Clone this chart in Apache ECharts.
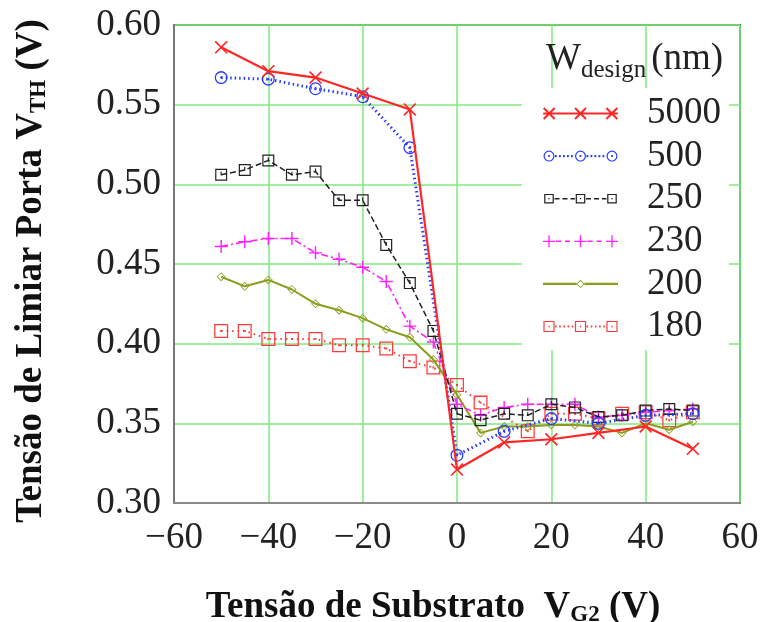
<!DOCTYPE html>
<html>
<head>
<meta charset="utf-8">
<script src="https://cdn.jsdelivr.net/npm/echarts@6/dist/echarts.min.js"></script>
<style>
html,body{margin:0;padding:0;background:#fff;}
#chart{width:760px;height:622px;}
</style>
</head>
<body>
<div id="chart"></div>
<script>
// ---- data ----
const seriesNames = ['5000', '500', '250', '230', '200', '180'];
const xTicks = [-60, -40, -20, 0, 20, 40, 60];
const yTicks = [0.30, 0.35, 0.40, 0.45, 0.50, 0.55, 0.60];

const vg2Coarse = [-50, -40, -30, -20, -10, 0, 10, 20, 30, 40, 50];
const vg2Fine = [-50, -45, -40, -35, -30, -25, -20, -15, -10, -5, 0, 5, 10, 15, 20, 25, 30, 35, 40, 45, 50];
const vg2For180 = [-50, -45, -40, -35, -30, -25, -20, -15, -10, -5, 0, 5, 15, 20, 25, 30, 35, 40, 45, 50];

const vth5000 = [0.586, 0.571, 0.567, 0.557, 0.547, 0.321, 0.338, 0.340, 0.344, 0.348, 0.334];
const vth500 = [0.567, 0.566, 0.560, 0.555, 0.523, 0.330, 0.345, 0.353, 0.350, 0.355, 0.356];
const vth250 = [0.506, 0.509, 0.515, 0.506, 0.508, 0.490, 0.490, 0.462, 0.438, 0.408, 0.356, 0.352, 0.356, 0.355, 0.362, 0.360, 0.354, 0.355, 0.358, 0.359, 0.358];
const vth230 = [0.461, 0.464, 0.466, 0.466, 0.457, 0.453, 0.448, 0.439, 0.411, 0.401, 0.362, 0.355, 0.360, 0.362, 0.362, 0.362, 0.354, 0.355, 0.357, 0.358, 0.359];
const vth200 = [0.442, 0.436, 0.440, 0.434, 0.425, 0.421, 0.416, 0.409, 0.404, 0.390, 0.368, 0.344, 0.348, 0.348, 0.349, 0.349, 0.348, 0.344, 0.350, 0.346, 0.351];
const vth180 = [0.408, 0.408, 0.403, 0.403, 0.403, 0.399, 0.399, 0.397, 0.389, 0.385, 0.374, 0.363, 0.345, 0.356, 0.356, 0.353, 0.356, 0.357, 0.352, 0.357];

// ---- build ----
function pairs(xs, ys) { return xs.map((x, i) => [x, ys[i]]); }
const SERIF = '"Liberation Serif", "Times New Roman", serif';

// plot marker symbols
const symX = 'path://M-5.6,-4.6 L-4.6,-5.6 L5.6,4.6 L4.6,5.6 Z M4.6,-5.6 L5.6,-4.6 L-4.6,5.6 L-5.6,4.6 Z';
const symCircDot = 'path://M0,-5 A5,5 0 1,1 0,5 A5,5 0 1,1 0,-5 Z M0,-4 A4,4 0 1,0 0,4 A4,4 0 1,0 0,-4 Z M0,-0.9 A0.9,0.9 0 1,1 0,0.9 A0.9,0.9 0 1,1 0,-0.9 Z';
const symSqTick = 'path://M-5,-5 H5 V5 H-5 Z M-4,-4 V4 H4 V-4 Z M-0.5,-2.5 H0.5 V0.5 H-0.5 Z';
const symSqDot = 'path://M-5,-5 H5 V5 H-5 Z M-4.1,-4.1 V4.1 H4.1 V-4.1 Z M-0.7,-0.7 H0.7 V0.7 H-0.7 Z';
const symPlus = 'path://M-5,-0.55 H5 V0.55 H-5 Z M-0.55,-5 H0.55 V5 H-0.55 Z';
const symDiamond = 'path://M0,-4 L4,0 L0,4 L-4,0 Z M0,-3 L-3,0 L0,3 L3,0 Z';

// legend icon builders (75 x 14 box)
const W = 75, H = 14, CY = 7;
function r(x0, y0, x1, y1) { return `M${x0},${y0} L${x1},${y0} L${x1},${y1} L${x0},${y1} Z `; }
function rh(x0, y0, x1, y1) { return `M${x0},${y0} L${x0},${y1} L${x1},${y1} L${x1},${y0} Z `; }
function specks() { return r(0, 0, 0.02, 0.02) + r(W - 0.02, H - 0.02, W, H); }
function seg(a, b, t) { return r(a, CY - t / 2, b, CY + t / 2); }
function pattern(a, b, on, off, t) {
  let s = ''; let x = a;
  while (x < b) { s += seg(x, Math.min(x + on, b), t); x += on + off; }
  return s;
}
function mX(cx, h) { return `M${cx - h - 0.7},${CY - h + 0.7} L${cx - h + 0.7},${CY - h - 0.7} L${cx + h + 0.7},${CY + h - 0.7} L${cx + h - 0.7},${CY + h + 0.7} Z M${cx + h - 0.7},${CY - h - 0.7} L${cx + h + 0.7},${CY - h + 0.7} L${cx - h + 0.7},${CY + h + 0.7} L${cx - h - 0.7},${CY + h - 0.7} Z `; }
function mCirc(cx, ro, ri, rd) {
  return `M${cx},${CY - ro} A${ro},${ro} 0 1,1 ${cx},${CY + ro} A${ro},${ro} 0 1,1 ${cx},${CY - ro} Z ` +
    `M${cx},${CY - ri} A${ri},${ri} 0 1,0 ${cx},${CY + ri} A${ri},${ri} 0 1,0 ${cx},${CY - ri} Z ` +
    `M${cx},${CY - rd} A${rd},${rd} 0 1,1 ${cx},${CY + rd} A${rd},${rd} 0 1,1 ${cx},${CY - rd} Z `;
}
function mSq(cx, h, t, d) { return r(cx - h, CY - h, cx + h, CY + h) + rh(cx - h + t, CY - h + t, cx + h - t, CY + h - t) + r(cx - d, CY - d, cx + d, CY + d); }
function mPlus(cx, h, t) { return r(cx - h, CY - t / 2, cx + h, CY + t / 2) + r(cx - t / 2, CY - h, cx + t / 2, CY + h); }
function mDia(cx, h, t) { return `M${cx},${CY - h} L${cx + h},${CY} L${cx},${CY + h} L${cx - h},${CY} Z M${cx},${CY - h + t} L${cx - h + t},${CY} L${cx},${CY + h - t} L${cx + h - t},${CY} Z `; }

const MK = [6, 37.5, 69];
const legendIcons = [
  'path://' + specks() + seg(0, W, 2) + MK.map(c => mX(c, 5.5)).join(''),
  'path://' + specks() + pattern(12, 31.5, 1.8, 2.2, 2.4) + pattern(43.5, 63, 1.8, 2.2, 2.4) + MK.map(c => mCirc(c, 5.5, 4.3, 1.1)).join(''),
  'path://' + specks() + pattern(11.5, 32, 5, 3, 1.5) + pattern(43, 63.5, 5, 3, 1.5) + MK.map(c => mSq(c, 4.8, 1.2, 0.6)).join(''),
  'path://' + specks() + pattern(13, 31, 5, 4, 1.6) + pattern(44.5, 62.5, 5, 4, 1.6) + MK.map(c => mPlus(c, 6, 1.3)).join(''),
  'path://' + specks() + seg(0, 33.5, 2.2) + seg(41.5, W, 2.2) + mDia(37.5, 4.2, 1.2),
  'path://' + specks() + pattern(12, 31.5, 1.6, 2.6, 2) + pattern(43.5, 63, 1.6, 2.6, 2) + MK.map(c => mSq(c, 5.6, 1.2, 0.7)).join('')
];

const styles = [
  {color: '#ff2626', sym: symX, size: 13, lt: 'solid', lw: 2.2},
  {color: '#2b3cff', sym: symCircDot, size: 13, lt: [1.5, 3], lw: 3},
  {color: '#222222', sym: symSqTick, size: 12, lt: [6, 3], lw: 1.5},
  {color: '#ff22ff', sym: symPlus, size: 13, lt: [7, 3, 2, 3], lw: 1.6},
  {color: '#8c9c1c', sym: symDiamond, size: 9, lt: 'solid', lw: 2},
  {color: '#ff3b3b', sym: symSqDot, size: 14, lt: [1.5, 4], lw: 2}
];
const dataSets = [
  pairs(vg2Coarse, vth5000),
  pairs(vg2Coarse, vth500),
  pairs(vg2Fine, vth250),
  pairs(vg2Fine, vth230),
  pairs(vg2Fine, vth200),
  pairs(vg2For180, vth180)
];

const series = seriesNames.map((n, i) => ({
  name: n,
  type: 'line',
  data: dataSets[i],
  symbol: styles[i].sym,
  symbolSize: styles[i].size,
  symbolKeepAspect: true,
  showAllSymbol: true,
  itemStyle: {color: styles[i].color, borderWidth: 0},
  lineStyle: {color: styles[i].color, type: styles[i].lt, width: styles[i].lw},
  animation: false,
  z: 10 - i
}));

const nameRich = {
  a: {fontFamily: SERIF, fontSize: 37, fontWeight: 'bold', color: '#111', lineHeight: 42},
  b: {fontFamily: SERIF, fontSize: 23, fontWeight: 'bold', color: '#111', padding: [17, 0, 0, 0], lineHeight: 42}
};

const chart = echarts.init(document.getElementById('chart'), null, {renderer: 'canvas'});
chart.setOption({
  backgroundColor: '#ffffff',
  animation: false,
  grid: {left: 174, right: 20, top: 25, bottom: 119, containLabel: false, outerBoundsMode: 'none',
    show: true, borderColor: '#3f7f3f', borderWidth: 2, backgroundColor: '#fff'},
  title: {
    left: 541, top: 34,
    text: '{w|W}{s|design}{n|(nm)}',
    textStyle: {
      fontWeight: 'normal',
      rich: {
        w: {fontFamily: SERIF, fontSize: 37, fontWeight: 'normal', color: '#222', lineHeight: 40},
        s: {fontFamily: SERIF, fontSize: 25, fontWeight: 'normal', color: '#222', padding: [22, 5, 0, 0], lineHeight: 40},
        n: {fontFamily: SERIF, fontSize: 37, fontWeight: 'normal', color: '#222', lineHeight: 40}
      }
    }
  },
  legend: {
    orient: 'vertical',
    left: 522, top: 88,
    padding: [7, 8, 5, 21],
    backgroundColor: '#ffffff',
    itemWidth: W, itemHeight: H,
    itemGap: 5.6,
    data: seriesNames.map((n, i) => ({name: n, icon: legendIcons[i]})),
    textStyle: {fontFamily: SERIF, fontSize: 37, color: '#222', lineHeight: 36, padding: [0, 0, 0, 24]}
  },
  xAxis: {
    type: 'value', min: xTicks[0], max: xTicks[xTicks.length - 1], interval: 20,
    axisLine: {show: true, onZero: false, lineStyle: {color: '#8a8a8a', width: 2}},
    axisTick: {show: false},
    splitLine: {show: true, lineStyle: {color: '#7fea7f', width: 1.5}},
    axisLabel: {fontFamily: SERIF, fontSize: 37, color: '#222', margin: 17,
      formatter: v => String(v).replace('-', '\u2212')},
    name: '{a|Tensão de Substrato  V}{b|G2}{a| (V)}',
    nameLocation: 'middle', nameGap: 83,
    nameTextStyle: {padding: [0, 48, 0, 0], rich: nameRich}
  },
  yAxis: {
    type: 'value', min: yTicks[0], max: yTicks[yTicks.length - 1], interval: 0.05,
    axisLine: {show: true, onZero: false, lineStyle: {color: '#777', width: 2}},
    axisTick: {show: false},
    splitLine: {show: true, lineStyle: {color: '#7fea7f', width: 1.5}},
    axisLabel: {fontFamily: SERIF, fontSize: 37, color: '#222', margin: 13,
      formatter: v => v.toFixed(2)},
    name: '{a|Tensão de Limiar Porta V}{b|TH}{a| (V)}',
    nameLocation: 'middle', nameGap: 122, nameRotate: 90,
    nameTextStyle: {padding: [0, 14, 0, 0], rich: nameRich}
  },
  series: series
});
</script>
</body>
</html>
